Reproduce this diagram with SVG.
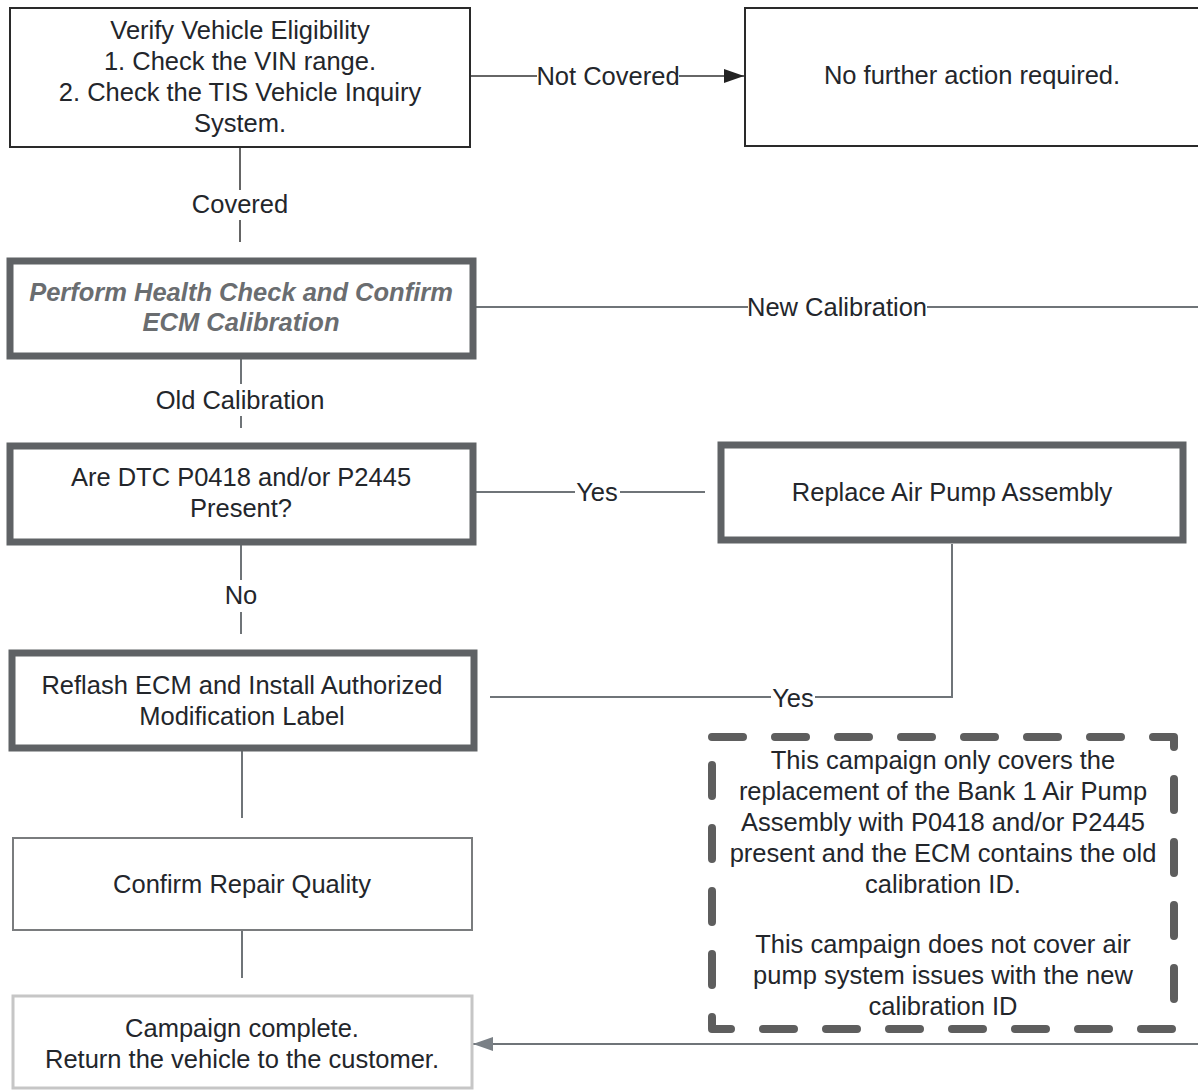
<svg xmlns="http://www.w3.org/2000/svg" width="1198" height="1091" viewBox="0 0 1198 1091">
<defs>
<style>
text{font-family:"Liberation Sans",Arial,sans-serif;font-size:25.5px;fill:#23262b;text-anchor:middle;dominant-baseline:central}
.thin{fill:#fff;stroke:#2a2a2a;stroke-width:2}
.thick{fill:#fff;stroke:#5f6265;stroke-width:7}
.grey{fill:#fff;stroke:#7a7c7e;stroke-width:2}
.light{fill:#fff;stroke:#c6c6c6;stroke-width:3}
.dash{fill:none;stroke:#5e5e5e;stroke-width:8;stroke-dasharray:31 32;stroke-linecap:round;stroke-linejoin:round}
.c{fill:none;stroke:#333;stroke-width:1.5}
.cg{fill:none;stroke:#6f7478;stroke-width:2}
.it{font-style:italic;font-weight:bold;fill:#6a6d70}
.lbl{fill:#23262b}
</style>
<marker id="ab" viewBox="0 0 20 14" refX="20" refY="7" markerWidth="20" markerHeight="14" orient="auto" markerUnits="userSpaceOnUse">
<path d="M0,0L20,7L0,14z" fill="#222"/>
</marker>
<marker id="ag" viewBox="0 0 20 14" refX="20" refY="7" markerWidth="20" markerHeight="14" orient="auto" markerUnits="userSpaceOnUse">
<path d="M0,0L20,7L0,14z" fill="#7a8086"/>
</marker>
</defs>
<rect width="1198" height="1091" fill="#fff"/>
<g id="connectors">
<path class="c" d="M470,76H537"/>
<path class="c" d="M679,76H744" marker-end="url(#ab)"/>
<text x="608" y="76" class="lbl">Not Covered</text>
<path class="c" d="M240,148V190M240,220V242"/>
<text x="240" y="204" class="lbl">Covered</text>
<path class="cg" d="M476,307H748M927,307H1198"/>
<text x="837" y="307" class="lbl">New Calibration</text>
<path class="cg" d="M241,359V384M241,416V428"/>
<text x="240" y="400" class="lbl">Old Calibration</text>
<path class="cg" d="M476,492H575M620,492H705"/>
<text x="597" y="492" class="lbl">Yes</text>
<path class="cg" d="M241,545V580M241,612V634"/>
<text x="241" y="595" class="lbl">No</text>
<path class="cg" d="M952,544V697H815M771,697H490"/>
<text x="793" y="698" class="lbl">Yes</text>
<path class="cg" d="M242,751V818"/>
<path class="cg" d="M242,931V978"/>
<path class="cg" d="M1198,1044H473" marker-end="url(#ag)"/>
</g>
<g id="n1">
<rect class="thin" x="10" y="8" width="460" height="139"/>
<text x="240" y="30">Verify Vehicle Eligibility</text>
<text x="240" y="61">1. Check the VIN range.</text>
<text x="240" y="92">2. Check the TIS Vehicle Inquiry</text>
<text x="240" y="123">System.</text>
</g>
<g id="n2">
<rect class="thin" x="745" y="8" width="460" height="138"/>
<text x="972" y="75">No further action required.</text>
</g>
<g id="n3">
<rect class="thick" x="10" y="261" width="463" height="95"/>
<text x="241" y="292" class="it">Perform Health Check and Confirm</text>
<text x="241" y="322" class="it">ECM Calibration</text>
</g>
<g id="n4">
<rect class="thick" x="10" y="446" width="463" height="96"/>
<text x="241" y="477">Are DTC P0418 and/or P2445</text>
<text x="241" y="508">Present?</text>
</g>
<g id="n5">
<rect class="thick" x="721" y="445" width="462" height="95"/>
<text x="952" y="492">Replace Air Pump Assembly</text>
</g>
<g id="n6">
<rect class="thick" x="12" y="653" width="462" height="95"/>
<text x="242" y="685">Reflash ECM and Install Authorized</text>
<text x="242" y="716">Modification Label</text>
</g>
<g id="n7">
<rect class="grey" x="13" y="838" width="459" height="92"/>
<text x="242" y="884">Confirm Repair Quality</text>
</g>
<g id="n8">
<rect class="light" x="13" y="996" width="459" height="92"/>
<text x="242" y="1028">Campaign complete.</text>
<text x="242" y="1059">Return the vehicle to the customer.</text>
</g>
<g id="note">
<rect class="dash" x="712" y="737" width="462" height="292"/>
<text x="943" y="760">This campaign only covers the</text>
<text x="943" y="791">replacement of the Bank 1 Air Pump</text>
<text x="943" y="822">Assembly with P0418 and/or P2445</text>
<text x="943" y="853">present and the ECM contains the old</text>
<text x="943" y="884">calibration ID.</text>
<text x="943" y="944">This campaign does not cover air</text>
<text x="943" y="975">pump system issues with the new</text>
<text x="943" y="1006">calibration ID</text>
</g>
</svg>
